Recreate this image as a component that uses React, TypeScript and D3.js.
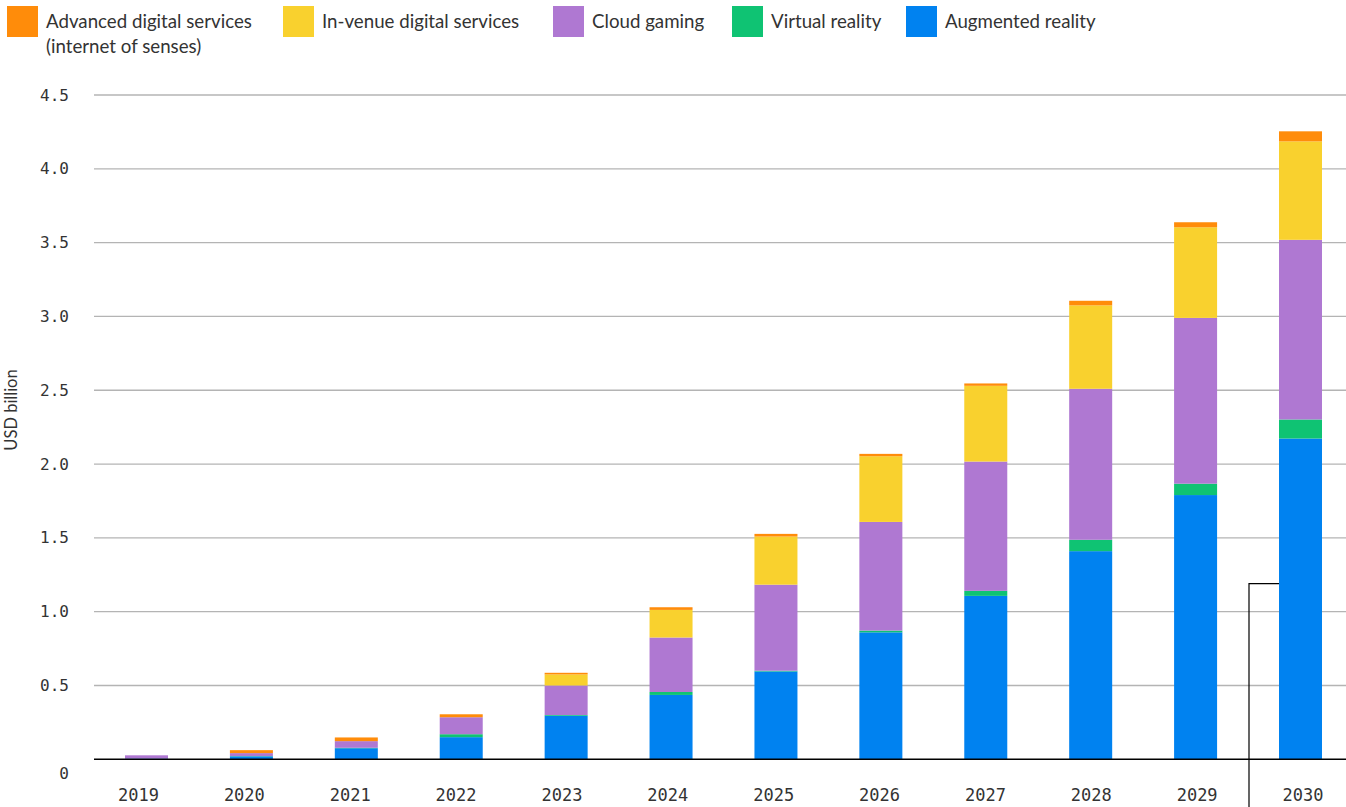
import * as d3 from "d3";

const years = ["2019", "2020", "2021", "2022", "2023", "2024", "2025", "2026", "2027", "2028", "2029", "2030"];

// values in USD billion (bottom to top of each stack)
const augmentedReality = [0.005, 0.02, 0.075, 0.15, 0.295, 0.436, 0.595, 0.86, 1.107, 1.41, 1.79, 2.173];
const virtualReality = [0, 0.002, 0.003, 0.02, 0.005, 0.02, 0.005, 0.012, 0.034, 0.077, 0.077, 0.129];
const cloudGaming = [0.022, 0.02, 0.045, 0.115, 0.2, 0.369, 0.583, 0.736, 0.876, 1.023, 1.123, 1.217];
const inVenueServices = [0, 0, 0, 0, 0.075, 0.187, 0.326, 0.445, 0.513, 0.565, 0.614, 0.667];
const advancedServices = [0, 0.02, 0.025, 0.02, 0.011, 0.018, 0.018, 0.016, 0.016, 0.031, 0.034, 0.068];

const yTicks = [0, 0.5, 1, 1.5, 2, 2.5, 3, 3.5, 4, 4.5];

const seriesKeys = ["ar", "vr", "cloud", "venue", "advanced"];
const seriesColors = ["#0082F0", "#0FC373", "#AF78D2", "#F9D12E", "#FF8C0A"];

const legendItems = [
  { label: ["Advanced digital services", "(internet of senses)"], color: "#FF8C0A", x: 7 },
  { label: ["In-venue digital services"], color: "#F9D12E", x: 283 },
  { label: ["Cloud gaming"], color: "#AF78D2", x: 553 },
  { label: ["Virtual reality"], color: "#0FC373", x: 732 },
  { label: ["Augmented reality"], color: "#0082F0", x: 906 },
];

const W = 1346;
const H = 807;
const monoFont = "'DejaVu Sans Mono', monospace";
const sansFont = "Lato, 'Noto Sans', sans-serif";

const App = () => {
  const rows = years.map((year, i) => ({
    year,
    ar: augmentedReality[i],
    vr: virtualReality[i],
    cloud: cloudGaming[i],
    venue: inVenueServices[i],
    advanced: advancedServices[i],
  }));

  const stacked = d3.stack<any>().keys(seriesKeys)(rows);

  const y = d3.scaleLinear().domain([0, 4.5]).range([759.3, 95]);
  const x = d3.scalePoint<string>().domain(years).range([146.5, 1300.5]);
  const xLabel = d3.scalePoint<string>().domain(years).range([138.5, 1303]);
  const barWidth = 43;
  const gridLeft = 94;

  // bracket next to the last bar
  const last = years[years.length - 1];
  const bracketX = x(last)! - barWidth / 2 - 30;
  const bracketY = y(1.19);

  return (
    <svg width={W} height={H} style={{ position: "absolute", left: 0, top: 0, display: "block", background: "#fff" }}>
      {/* legend */}
      {legendItems.map((item) => (
        <g key={item.color} transform={`translate(${item.x},6)`}>
          <rect width={31} height={31} fill={item.color} />
          {item.label.map((line, j) => (
            <text key={j} x={39} y={22 + j * 25} fontFamily={sansFont} fontSize={18.7} fill="#333">
              {line}
            </text>
          ))}
        </g>
      ))}

      {/* y axis title */}
      <text
        transform={`translate(17,410) rotate(-90)`}
        textAnchor="middle"
        fontFamily={sansFont}
        fontSize={16.5}
        fill="#333"
      >
        USD billion
      </text>

      {/* gridlines and tick labels */}
      {yTicks.map((t) => (
        <g key={t}>
          {t > 0 && <line x1={gridLeft} x2={W} y1={y(t)} y2={y(t)} stroke="#b4b4b4" strokeWidth={1.3} />}
          <text
            x={69}
            y={t === 0 ? y(t) + 14 : y(t)}
            dy="0.35em"
            textAnchor="end"
            fontFamily={monoFont}
            fontSize={16}
            fill="#333"
          >
            {t === 0 ? "0" : d3.format(".1f")(t)}
          </text>
        </g>
      ))}

      {/* bars */}
      {stacked.map((layer, li) => (
        <g key={layer.key} fill={seriesColors[li]}>
          {layer.map((d, i) => {
            const h = y(d[0]) - y(d[1]);
            if (h <= 0) return null;
            return <rect key={years[i]} x={x(years[i])! - barWidth / 2} y={y(d[1])} width={barWidth} height={h} />;
          })}
        </g>
      ))}

      {/* baseline */}
      <line x1={gridLeft} x2={W} y1={y(0)} y2={y(0)} stroke="#000" strokeWidth={1.5} />

      {/* year labels */}
      {years.map((yr) => (
        <text key={yr} x={xLabel(yr)} y={795} dy="0.35em" textAnchor="middle" fontFamily={monoFont} fontSize={17} fill="#333">
          {yr}
        </text>
      ))}

      {/* annotation bracket */}
      <polyline
        points={`${bracketX},${H} ${bracketX},${bracketY} ${x(last)! - barWidth / 2},${bracketY}`}
        fill="none"
        stroke="#000"
        strokeWidth={1.2}
      />
    </svg>
  );
};

export default App;
